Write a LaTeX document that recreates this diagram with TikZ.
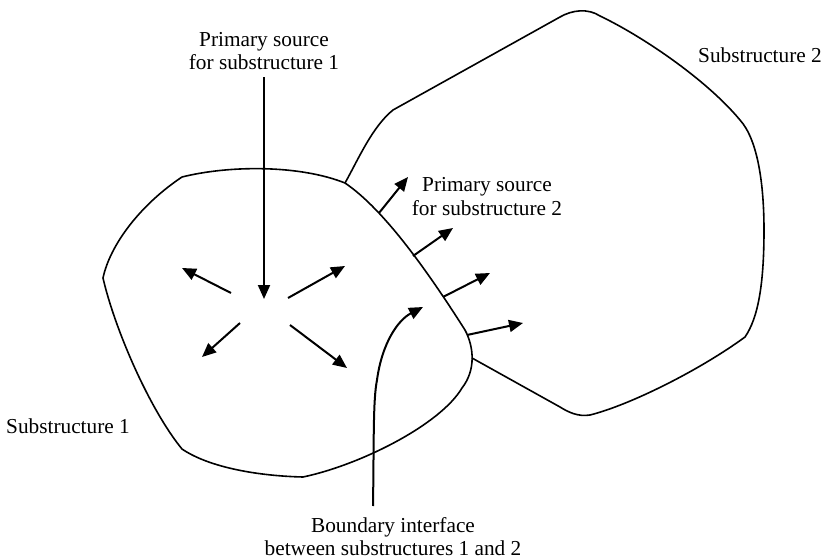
\documentclass[tikz,border=0pt]{standalone}
\usepackage{fontspec}
\setmainfont{Liberation Serif}
\usetikzlibrary{arrows.meta}
\begin{document}
\begin{tikzpicture}[x=1pt,y=-1pt,
  outline/.style={line width=1.6pt, line join=round},
  ray/.style={line width=2pt, -{Triangle[length=14pt,width=12pt]}},
  lbl/.style={font=\fontsize{21.3}{24}\selectfont, inner sep=0pt, anchor=base}]
\useasboundingbox (0,0) rectangle (825,559);

% labels
\node[lbl] (ps1a) at (264,47) {Primary source};
\node[lbl] (ps1b) at (264,70) {for substructure 1};
\node[lbl] (ps2a) at (487,192) {Primary source};
\node[lbl] (ps2b) at (487,215) {for substructure 2};
\node[lbl] (s2) at (760,63) {Substructure 2};
\node[lbl] (s1) at (68,433) {Substructure 1};
\node[lbl] (bia) at (393,532) {Boundary interface};
\node[lbl] (bib) at (393,555) {between substructures 1 and 2};

% substructure 1 outline
\draw[outline] (182,177) .. controls (230,165) and (300,165) .. (345,183)
  .. controls (385,210) and (430,275) .. (465,330)
  .. controls (474,347) and (476,370) .. (462,388)
  .. controls (440,425) and (360,465) .. (303,477)
  .. controls (260,476) and (210,468) .. (182,449)
  .. controls (150,410) and (115,330) .. (103,278)
  .. controls (110,245) and (140,205) .. (182,177) -- cycle;

% substructure 2 outline
\draw[outline] (345,183) .. controls (358,160) and (372,127) .. (393,110)
  -- (560,17) .. controls (572,10) and (588,8) .. (600,16)
  .. controls (640,35) and (705,78) .. (740,120)
  .. controls (758,140) and (764,185) .. (764,230)
  .. controls (764,285) and (758,318) .. (745,337)
  .. controls (700,370) and (630,405) .. (590,415)
  .. controls (578,417) and (568,412) .. (560,407)
  -- (472,358);

% coordinates
\coordinate (c0) at (264,299);
\coordinate (a1t) at (231,293); \coordinate (a1h) at (182,268);
\coordinate (a2t) at (240,323); \coordinate (a2h) at (202,357);
\coordinate (a3t) at (288,298); \coordinate (a3h) at (345,266);
\coordinate (a4t) at (290,325); \coordinate (a4h) at (347,368);
\coordinate (b1t) at (379,213); \coordinate (b1h) at (408,177);
\coordinate (b2t) at (413,256); \coordinate (b2h) at (453,228);
\coordinate (b3t) at (443,297); \coordinate (b3h) at (490,273);
\coordinate (b4t) at (467,335); \coordinate (b4h) at (523,323);
\coordinate (bistart) at (373,506);
\coordinate (bimid) at (377,380);
\coordinate (bitip) at (423,307);

% arrows
\draw[ray] ([yshift=-7pt]ps1b.south) -- (c0);
\draw[ray] (a1t) -- (a1h);
\draw[ray] (a2t) -- (a2h);
\draw[ray] (a3t) -- (a3h);
\draw[ray] (a4t) -- (a4h);
\draw[ray] (b1t) -- (b1h);
\draw[ray] (b2t) -- (b2h);
\draw[ray] (b3t) -- (b3h);
\draw[ray] (b4t) -- (b4h);
\draw[ray] (bistart) .. controls (374,440) and (373,400) .. (bimid)
  .. controls (382,343) and (398,320) .. (bitip);
\end{tikzpicture}
\end{document}
